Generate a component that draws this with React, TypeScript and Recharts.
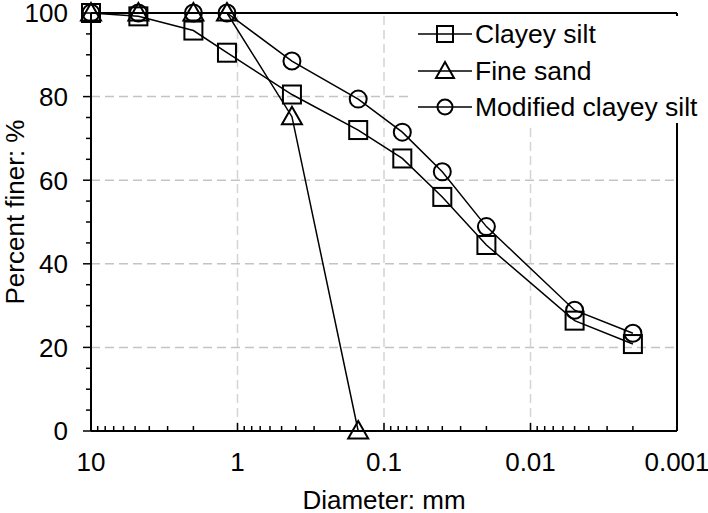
import React from 'react';
import { LineChart, Line, XAxis, YAxis, ReferenceLine } from 'recharts';

// particle size (mm) and percent finer
const diameters = [10, 4.75, 2, 1.18, 0.425, 0.15, 0.075, 0.04, 0.02, 0.005, 0.002];
const clayeySilt = [100, 99.2, 95.8, 90.5, 80.5, 72, 65.2, 56, 44.5, 26.4, 20.8];
const sandDiameters = [10, 4.75, 2, 1.18, 0.425, 0.15];
const fineSand = [100, 100, 100, 100, 75.2, 0];
const modifiedSilt = [100, 100, 100, 100, 88.5, 79.4, 71.5, 62, 48.9, 28.9, 23.4];

const xDecades = [10, 1, 0.1, 0.01, 0.001];
const xLabels = ['10', '1', '0.1', '0.01', '0.001'];
const yLabels = [0, 20, 40, 60, 80, 100];
const yGrid = [20, 40, 60, 80];
const xGrid = [1, 0.1, 0.01];

const FONT = '"Liberation Sans", Arial, sans-serif';
const FS = 26;

// minor ticks 2..9 in every decade
const xTicks: number[] = [...xDecades];
[1, 0.1, 0.01, 0.001].forEach(base => {
  for (let m = 2; m <= 9; m++) xTicks.push(m * base);
});
const yTicks: number[] = [];
for (let v = 0; v <= 100; v += 5) yTicks.push(v);

const clayData = diameters.map((d, i) => ({ d, v: clayeySilt[i] }));
const sandData = sandDiameters.map((d, i) => ({ d, v: fineSand[i] }));
const modData = diameters.map((d, i) => ({ d, v: modifiedSilt[i] }));

const XTick = (props: any) => {
  const { x, y, payload } = props;
  const idx = xDecades.indexOf(payload.value);
  const major = idx >= 0;
  return (
    <g>
      <line x1={x} x2={x} y1={y} y2={y - (major ? 8 : 5)} stroke="#000" strokeWidth={1.5} />
      {major && (
        <text x={x} y={y + 39.5} textAnchor="middle" fontSize={FS} fontFamily={FONT} fill="#000">
          {xLabels[idx]}
        </text>
      )}
    </g>
  );
};

const YTick = (props: any) => {
  const { x, y, payload } = props;
  const major = yLabels.includes(payload.value);
  return (
    <g>
      <line x1={x} x2={x - (major ? 8 : 5)} y1={y} y2={y} stroke="#000" strokeWidth={1.5} />
      {major && (
        <text x={x - 23} y={y + 9.3} textAnchor="end" fontSize={FS} fontFamily={FONT} fill="#000">
          {payload.value}
        </text>
      )}
    </g>
  );
};

const YTitle = (props: any) => {
  const { y, height } = props.viewBox;
  return (
    <text
      transform={`translate(24, ${y + height / 2 - 10}) rotate(-90)`}
      textAnchor="middle"
      fontSize={FS}
      fontFamily={FONT}
      fill="#000"
    >
      Percent finer: %
    </text>
  );
};

const squareDot = (p: any) =>
  p.cx == null ? null : (
    <rect key={`sq-${p.index}`} x={p.cx - 9} y={p.cy - 9} width={18} height={18} fill="none" stroke="#000" strokeWidth={2} />
  );
const triDot = (p: any) =>
  p.cx == null ? null : (
    <polygon
      key={`tr-${p.index}`}
      points={`${p.cx},${p.cy - 10} ${p.cx + 10},${p.cy + 7.5} ${p.cx - 10},${p.cy + 7.5}`}
      fill="none"
      stroke="#000"
      strokeWidth={2}
    />
  );
const circleDot = (p: any) =>
  p.cx == null ? null : (
    <circle key={`ci-${p.index}`} cx={p.cx} cy={p.cy} r={8.5} fill="none" stroke="#000" strokeWidth={2} />
  );

const legendItems = [
  { name: 'Clayey silt', shape: 'square' },
  { name: 'Fine sand', shape: 'triangle' },
  { name: 'Modified clayey silt', shape: 'circle' },
];

const LegendIcon = ({ shape }: { shape: string }) => (
  <svg width={56} height={24} style={{ display: 'block' }}>
    <line x1={1} x2={55} y1={12} y2={12} stroke="#000" strokeWidth={1.5} />
    {shape === 'square' && <rect x={20} y={4} width={16} height={16} fill="none" stroke="#000" strokeWidth={2} />}
    {shape === 'triangle' && <polygon points="28,3 37,19 19,19" fill="none" stroke="#000" strokeWidth={2} />}
    {shape === 'circle' && <circle cx={28} cy={12} r={7.5} fill="none" stroke="#000" strokeWidth={2} />}
  </svg>
);

export default function App() {
  return (
    <div style={{ position: 'absolute', left: 0, top: 0, width: 708, height: 513, background: '#fff', fontFamily: FONT }}>
      <LineChart width={708} height={513} margin={{ top: 13, right: 31, bottom: 0, left: 0 }}>
        <XAxis
          dataKey="d"
          type="number"
          scale="log"
          domain={[0.001, 10]}
          reversed
          ticks={xTicks}
          interval={0}
          tick={<XTick />}
          tickLine={false}
          tickSize={0}
          tickMargin={0}
          height={82}
          axisLine={{ stroke: '#000', strokeWidth: 2 }}
          label={{ value: 'Diameter: mm', position: 'insideBottom', offset: 4, fontSize: FS, fill: '#000', fontFamily: FONT }}
        />
        <YAxis
          type="number"
          domain={[0, 100]}
          ticks={yTicks}
          interval={0}
          tick={<YTick />}
          tickLine={false}
          tickSize={0}
          tickMargin={0}
          width={91}
          axisLine={{ stroke: '#000', strokeWidth: 2 }}
          label={<YTitle />}
        />
        {yGrid.map(v => (
          <ReferenceLine key={`hy${v}`} y={v} stroke="#c4c4c4" strokeWidth={1.5} strokeDasharray="9 5" />
        ))}
        {xGrid.map(v => (
          <ReferenceLine key={`vx${v}`} x={v} stroke="#d4d4d4" strokeWidth={1.5} strokeDasharray="9 5" />
        ))}
        <ReferenceLine y={100} stroke="#000" strokeWidth={2} />
        <ReferenceLine x={0.001} stroke="#000" strokeWidth={2} />
        <Line data={clayData} dataKey="v" stroke="#000" strokeWidth={1.5} dot={squareDot} isAnimationActive={false} />
        <Line data={sandData} dataKey="v" stroke="#000" strokeWidth={1.5} dot={triDot} isAnimationActive={false} />
        <Line data={modData} dataKey="v" stroke="#000" strokeWidth={1.5} dot={circleDot} isAnimationActive={false} />
      </LineChart>
      <div style={{ position: 'absolute', left: 408, top: 16, width: 292, height: 107, background: '#fff' }}>
        {legendItems.map(it => (
          <div key={it.name} style={{ display: 'flex', alignItems: 'center', height: 36.5, paddingLeft: 9 }}>
            <LegendIcon shape={it.shape} />
            <span style={{ fontSize: 26.5, lineHeight: '30px', color: '#000', marginLeft: 2, whiteSpace: 'nowrap' }}>{it.name}</span>
          </div>
        ))}
      </div>
    </div>
  );
}
